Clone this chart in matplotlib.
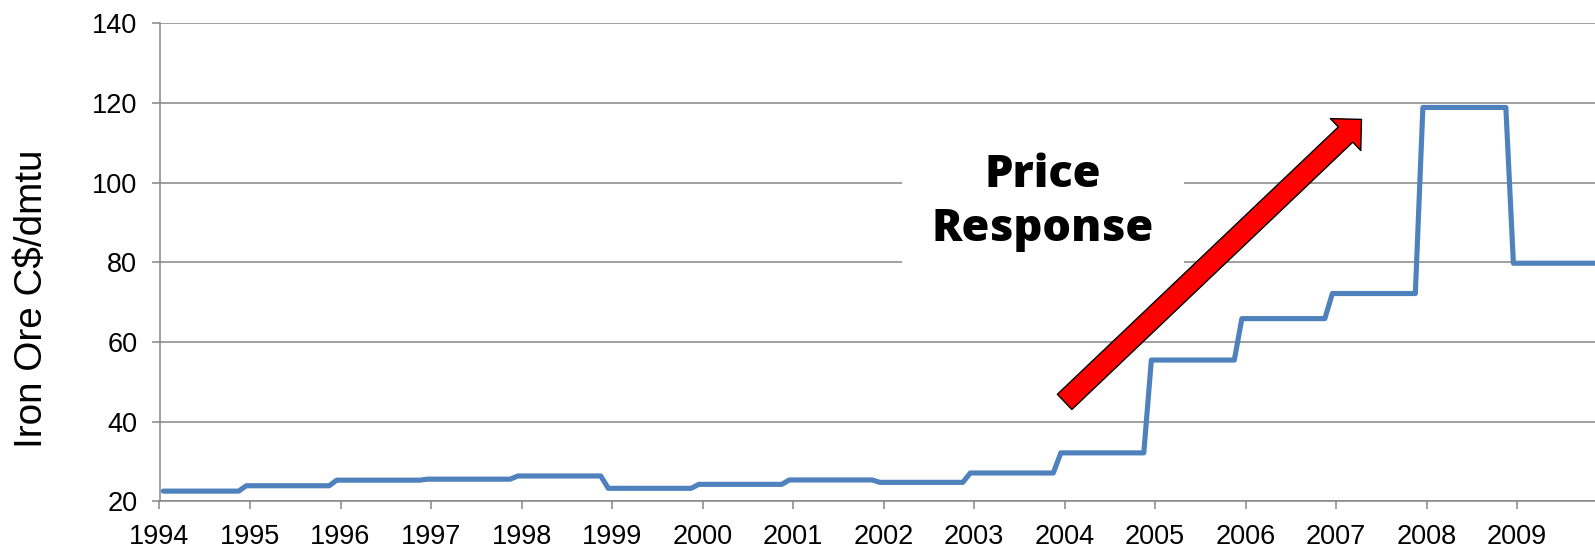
import matplotlib
matplotlib.use("Agg")
import matplotlib.pyplot as plt

# annual contract price levels (C$/dmtu)
years = [1994, 1995, 1996, 1997, 1998, 1999, 2000, 2001,
         2002, 2003, 2004, 2005, 2006, 2007, 2008, 2009]
prices = [22.6, 23.95, 25.35, 25.6, 26.4, 23.3, 24.3, 25.4,
          24.8, 27.15, 32.2, 55.5, 65.9, 72.2, 118.9, 79.8]

y_ticks = [20, 40, 60, 80, 100, 120, 140]
y_label = "Iron Ore C$/dmtu"
note = "Price\nResponse"

GRAY = "#868686"
BLUE = "#4F81BD"

plt.rcParams["font.family"] = ["Liberation Sans", "DejaVu Sans"]

fig = plt.figure(figsize=(15.95, 5.48), dpi=100)
ax = fig.add_axes([0.1, 0.0849, 0.9, 0.8724])

# monthly points: each level holds from December of the previous year to November
xs, ys = [], []
for i, (yr, p) in enumerate(zip(years, prices)):
    start = yr + 0.5 / 12 if i == 0 else yr - 0.5 / 12
    xs += [start, yr + 10.5 / 12]
    ys += [p, p]
ax.plot(xs, ys, color=BLUE, lw=3.7, solid_joinstyle="round",
        solid_capstyle="round", zorder=3)

ax.set_xlim(1994, 2009.86)
ax.set_ylim(20, 140)
ax.set_xticks(years)
ax.set_xticklabels([str(y) for y in years])
ax.set_yticks(y_ticks)

ax.grid(axis="y", color=GRAY, lw=1.1)
ax.set_axisbelow(True)
for s in ["top", "right"]:
    ax.spines[s].set_visible(False)
for s in ["left", "bottom"]:
    ax.spines[s].set_color(GRAY)
    ax.spines[s].set_linewidth(1.1)
ax.tick_params(axis="both", colors=GRAY, labelcolor="black", width=1.1,
               length=6, labelsize=19.5)
ax.tick_params(axis="y", pad=10)
ax.tick_params(axis="x", pad=10)

fig.text(32 / 1595, 1 - 299 / 548, y_label, rotation=90, fontsize=27.8,
         ha="center", va="center")

# callout text with a white box that hides the gridlines behind it
ax.text(2003.76, 95.1, note, ha="center", va="center", multialignment="center",
        fontsize=32.5, fontweight=800, family=["Open Sans", "DejaVu Sans"],
        linespacing=1.28, zorder=4,
        bbox=dict(boxstyle="square,pad=0.66", fc="white", ec="none"))

ax.annotate("", xy=(2007.28, 115.9), xytext=(2004.0, 45.0),
            arrowprops=dict(arrowstyle="simple,head_length=15.8,head_width=31.7,tail_width=15.1",
                            mutation_scale=1, fc="red", ec="black", lw=1.0,
                            shrinkA=0, shrinkB=0), zorder=5)

fig.savefig("out.png", dpi=100)
